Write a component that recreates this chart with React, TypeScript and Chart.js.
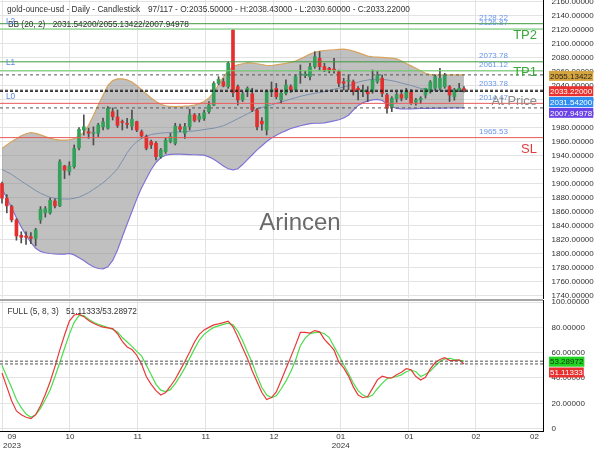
import React, { useEffect, useRef } from "react";
import { Chart, registerables } from "chart.js";
Chart.register(...registerables);

const FONT = '"Liberation Sans", Arial, sans-serif';

// ---------- candles (daily OHLC) ----------
const opens = [1900,1879,1867,1848,1826,1825,1824,1821.5,1848,1858,1858,1875,1868,1925,1917,1924,1950.8,1976.4,1974,1971.5,1971.7,1981,1978.8,2002.6,1995,1988,1986,1982,1988.3,1974,1967,1959.8,1957.4,1938.3,1945.5,1959.8,1957.4,1981,1971.7,1981,1998,1991.7,1993,2002.6,2012,2043,2045.4,2038.3,2119,2038.3,2019.3,2031,2028,2005,1989,1976.4,2031,2036,2019.3,2028.8,2038.3,2033.6,2055,2054,2052.6,2066.9,2078.8,2066.9,2064.5,2063,2059.8,2045.4,2046,2045.4,2035.9,2031,2031.2,2031.2,2045.4,2050.3,2026.4,2009,2021,2027,2022,2031,2016,2019.3,2026.4,2031,2036,2036,2038.3,2038.3,2024,2033,2035.5];
const highs = [1902,1884,1869,1850,1831,1831,1830,1836,1867,1867,1879,1878,1934,1926,1931,1955,1980,1998,1979,1981,1986,1993.5,2009.7,2008,2005,1990.7,1993,2005,1989,1976.4,1969.3,1962,1959.8,1950,1964.5,1971.7,1986,1985,1986,2006,2000,2000,2005,2017,2045.5,2052.6,2050,2074,2119.5,2040.7,2031,2038,2036,2007.4,1994,2033.6,2045,2043,2033,2047.9,2041,2055,2069.3,2060,2071.7,2088.3,2088.3,2071.7,2066,2078.8,2062.1,2050.3,2055,2047.9,2038.3,2040.7,2038.3,2062.1,2059.8,2055,2028.8,2024,2030,2033,2036,2034,2021.7,2024,2036,2047,2055,2064.5,2057.4,2040,2036,2043,2038.43];
const lows = [1872,1858,1845,1819,1815,1813,1814,1811,1843,1852,1856,1865,1867,1907,1912,1921.7,1948,1969,1964.5,1955,1967,1976.4,1977.4,1990.7,1980,1976.4,1979,1976.4,1974,1965,1948,1950,1933.6,1936,1943,1958,1955,1974,1964.5,1976.4,1988,1988,1990,2000,2011,2041,2038,2036,2024,2012,2017,2024,2002.6,1976.4,1976,1969.3,2024,2021,2015,2026.4,2030,2031,2043,2051,2047.9,2064.5,2062,2059.8,2058,2057.4,2038.3,2033.6,2033.6,2026.4,2019.3,2024,2016.9,2028.8,2043.1,2024,2000.3,2002.6,2016,2018,2020,2013,2012,2014,2022,2029,2033.6,2034,2036,2017,2019,2031,2030.6];
const closes = [1879,1868,1848,1825,1823,1823,1821.5,1833.6,1863,1864,1876,1868,1931,1919,1925,1950,1977.4,1981,1971.7,1973,1983.6,1988,2007.4,1995.4,1983,1987,1984.5,1991.7,1976.4,1968,1950.3,1955,1938.3,1948,1962,1967,1982,1977.4,1981,1998,1990,1996.4,2001,2012,2043,2048.8,2039.3,2071.7,2030,2019.3,2028,2036,2005,1981,1985,2031.2,2034,2024,2029,2040.7,2033.6,2052.6,2056,2056.5,2066.9,2081,2066.9,2062.1,2062.1,2062,2043.1,2043.1,2047,2031.2,2033.6,2033.5,2028,2047.9,2055,2028.8,2007.4,2021.7,2027,2022,2031,2015,2019.3,2021.7,2036,2045,2052.6,2050.3,2055,2026.4,2033.6,2036,2033.22];

// ---------- Bollinger bands (20, 2) ----------
const bbUpper = [1950,1955,1960,1964,1968,1971,1972.5,1971.5,1969.5,1967,1964.5,1963,1962,1962,1962.5,1964,1968,1973,1983,1997,2012,2026,2040,2047,2049.5,2049.5,2048,2045,2040,2034,2028,2022,2017,2013,2011,2010,2009.7,2010,2010.5,2011,2012,2014,2017,2022,2030,2041,2052,2061,2067,2069.5,2071,2072.5,2072,2071,2070,2068.5,2068.5,2069.5,2070.5,2071.5,2073,2075,2078,2081.5,2085,2087.5,2089,2090,2090.7,2091,2091.5,2092,2091,2089,2087,2084.5,2082,2081,2080.5,2080,2079.5,2079,2078,2075,2071.5,2068,2064.5,2061,2057.5,2055.5,2055,2055,2055,2055,2055.1,2055.1,2055.13422];
const bbMiddle = [1920,1916.5,1913,1908,1903.5,1899,1894.5,1890,1886,1883,1880.2,1879,1878,1877.8,1877.8,1878.8,1880.5,1883.5,1887,1891.5,1896,1901,1907,1913.5,1921,1932,1944,1953,1959.5,1964.5,1967.5,1970,1971,1972,1972.4,1972.8,1973.2,1973.6,1974,1974.5,1975,1976,1977,1978,1979,1980.5,1982.5,1985.5,1989,1992.5,1996,1999.5,2003,2006,2008.5,2010.5,2012.3,2014.5,2016.5,2018.5,2020.5,2022.5,2024.5,2026,2027.5,2028.8,2030,2031.2,2032.8,2034.5,2036.2,2037.8,2039.5,2042,2044.8,2046.5,2047.8,2048.8,2049,2048.8,2048,2046.8,2045.4,2043.5,2041.8,2040,2037.8,2035.8,2034.5,2033.5,2033,2032.6,2032.2,2032,2031.8,2031.6,2031.542];
const bbLower = [1893,1879,1865,1851,1838,1826,1816,1807.5,1803,1801,1800,1799.3,1799,1799,1800,1798,1794,1790,1785,1781,1778.5,1778,1781,1790,1805,1824,1842,1860,1878,1894,1907,1920,1930,1937,1940.5,1941.5,1941.8,1941.8,1941.5,1941.3,1941,1940.8,1940.5,1938,1934.5,1930,1925,1921,1919.5,1921,1927,1934,1941,1948,1954,1960,1965,1969,1972.5,1975.5,1978.5,1980.5,1982.5,1984,1985.5,1986,1986,1986.5,1988,1989.5,1991,1993.5,1997.5,2005,2011.5,2015.5,2018,2019.5,2020,2018.5,2014,2009.5,2007.3,2006.7,2006.4,2006.5,2007,2007.2,2007.3,2007.4,2007.5,2007.6,2007.7,2007.8,2007.9,2007.9,2007.94978];

// ---------- Stochastic FULL (5, 8, 3) ----------
const stochK = [44,33,22,14,11,9,8,11,18,27,37,49,62,74,85,89.8,90.4,88.5,85.5,83.3,81.5,80.2,79.6,79,75,69,64.5,62.5,58,51,41,35,30,26.6,28.5,33.5,39,46,53,60.5,68.5,74.5,78,80,82,82.8,83.8,85,80.5,72.5,64,55.5,45.5,37,28.5,23,24.5,29,38,47.3,56.5,66,76,76,75.5,77.5,76.5,70.5,66.5,62,52.5,48,41.5,33,26.5,24.4,25.3,31.8,38.5,41.4,40.3,40,42.6,44.5,47.3,46.5,41.2,38.4,40.5,47.2,52,54.6,56,54,53.8,54.3,51.11333];
const stochD = [50,41,32.5,23,16.5,11.5,9,11,16,23,30.5,41,52,63.5,74.7,84,89.3,89.3,86.4,84.1,82.5,81.2,79.9,78.3,76.4,72,68.5,65,61,57.5,50,42.5,35,30.4,29.2,30.8,35.5,41.5,48,55.5,63,70,74.5,77.5,80,81.2,82.4,83.3,82,77,69.5,60.5,52,41.5,32.5,26.6,24.5,26,31.3,37.5,45,54,65.5,71.5,75,75.8,76.2,75,72,64.8,58,50.5,43.5,36,30,26.5,24.7,26.5,31.5,35.8,39.4,40.4,41.2,42.5,45,46.3,45,41.2,43,45.5,49.5,53,55,55.6,54.5,54,53.28972];

// ---------- levels ----------
const levelValues = [2128.22, 2120.7, 2073.78, 2061.12, 2014.47, 1965.53];
const levelTexts = ["2128.22", "2126.87", "2073.78", "2061.12", "2014.47", "1965.53"];
const extraLevelValue = 2033.78;
const TOTAL_BARS = 117;

// ---------- axes ----------
const priceTicks = [1740,1760,1780,1800,1820,1840,1860,1880,1900,1920,1940,1960,1980,2000,2020,2040,2060,2080,2100,2120,2140,2160];
const stochTicks = [0, 20, 40, 60, 80, 100];
const xTickPositions = [0.15, 2.08, 14.13, 28.2, 42.33, 56.52, 70.38, 84.57, 98.49, 110.65];
const xTickLabels: any[] = ["", ["09", "2023"], "10", "11", "11", "12", ["01", "2024"], "01", "02", "02"];
const xTickHasGrid = [true, false, true, true, true, true, true, true, true, false];

const X_MIN = -0.4156;
const X_MAX = 112.42;
const GRID = "#e3e3e3";
const UP = "#35a05a";
const DOWN = "#e3302f";

function makeX(showLabels: boolean) {
  return {
    type: "linear",
    min: X_MIN,
    max: X_MAX,
    offset: false,
    bounds: "data",
    afterBuildTicks: (s: any) => {
      s.ticks = xTickPositions.map((v) => ({ value: v }));
    },
    afterFit: (s: any) => {
      s.paddingLeft = 0;
      s.paddingRight = 0;
      s.height = showLabels ? 19 : 0;
    },
    grid: {
      color: (c: any) => (xTickHasGrid[c.index] ? GRID : "rgba(0,0,0,0)"),
      drawTicks: false,
      offset: false,
      lineWidth: 1,
    },
    border: { display: showLabels, color: "#000", width: 1 },
    ticks: {
      display: showLabels,
      autoSkip: false,
      maxRotation: 0,
      minRotation: 0,
      padding: 1.3,
      color: "#333",
      font: { family: FONT, size: 8, lineHeight: 1.1 },
      callback: (_v: any, i: number) => xTickLabels[i],
    },
  };
}

function makeY(min: number, max: number, ticks: number[], fmt: (v: number) => string) {
  return {
    position: "right",
    min,
    max,
    bounds: "data",
    beginAtZero: false,
    afterBuildTicks: (s: any) => {
      s.ticks = ticks.map((v) => ({ value: v }));
    },
    afterFit: (s: any) => {
      s.width = 57;
      s.paddingTop = 0;
      s.paddingBottom = 0;
    },
    grid: { color: GRID, drawTicks: false },
    border: { display: true, color: "#000", width: 1 },
    ticks: {
      padding: 8.5,
      color: "#333",
      font: { family: FONT, size: 8 },
      callback: (v: any) => fmt(Number(v)),
    },
  };
}

function drawTags(ctx: any, scale: any, tags: any[], shift: number) {
  const items = tags
    .map((t) => ({ ...t, py: scale.getPixelForValue(t.value) }))
    .sort((a, b) => a.py - b.py);
  let prev = -1e9;
  ctx.font = `8px ${FONT}`;
  ctx.textBaseline = "middle";
  ctx.textAlign = "left";
  for (const t of items) {
    const cy = Math.max(t.py + shift, prev + 10.8);
    prev = cy;
    const w = ctx.measureText(t.text).width + 2;
    ctx.fillStyle = t.bg;
    ctx.fillRect(549, cy - 5, w, 10);
    ctx.fillStyle = t.fg;
    ctx.fillText(t.text, 550, cy + 0.5);
  }
}

const topPlugin = {
  id: "topText",
  afterDraw(chart: any) {
    const { ctx } = chart;
    const y = chart.scales.y;
    const last = opens.length - 1;
    ctx.save();
    // headers
    ctx.font = `8.3px ${FONT}`;
    ctx.fillStyle = "#333";
    ctx.textBaseline = "middle";
    ctx.textAlign = "left";
    ctx.fillText("gold-ounce-usd - Daily - Candlestick", 7, 10);
    ctx.fillText(
      `${opens.length}/${TOTAL_BARS} - O:${opens[last].toFixed(5)} - H:${highs[last].toFixed(5)} - L:${lows[last].toFixed(5)} - C:${closes[last].toFixed(5)}`,
      148,
      10
    );
    ctx.fillText("BB (20, 2)", 8, 25);
    ctx.fillText(
      `${bbMiddle[last].toFixed(5)}/${bbUpper[last].toFixed(5)}/${bbLower[last].toFixed(5)}`,
      52.7,
      25
    );
    // level value labels
    ctx.font = `8px ${FONT}`;
    ctx.fillStyle = "#6a95ea";
    const lv = [...levelValues.slice(0, 4), extraLevelValue, ...levelValues.slice(4)];
    const lt = [...levelTexts.slice(0, 4), extraLevelValue.toFixed(2), ...levelTexts.slice(4)];
    lv.forEach((v, i) => ctx.fillText(lt[i], 479, y.getPixelForValue(v) - 5.8));
    // L labels
    ctx.font = `8.3px ${FONT}`;
    ctx.fillStyle = "#5a86e0";
    ctx.fillText("L2", 6, y.getPixelForValue(levelValues[0]) - 2.2);
    ctx.fillText("L1", 6, y.getPixelForValue(levelValues[2]) + 0.4);
    ctx.fillText("L0", 6, y.getPixelForValue(levelValues[4]) - 6.3);
    // big labels
    ctx.font = `13px ${FONT}`;
    ctx.textAlign = "right";
    ctx.fillStyle = "#3aa83a";
    ctx.fillText("TP2", 537, y.getPixelForValue(levelValues[1]) + 6);
    ctx.fillText("TP1", 537, y.getPixelForValue(levelValues[3]) + 2);
    ctx.fillStyle = "#8c8c8c";
    ctx.fillText("At Price", 537, y.getPixelForValue(levelValues[4]) - 1.8);
    ctx.fillStyle = "#e23b3b";
    ctx.fillText("SL", 537, y.getPixelForValue(levelValues[5]) + 11.5);
    // watermark
    ctx.font = `24px ${FONT}`;
    ctx.textAlign = "center";
    ctx.fillStyle = "#6a6a6a";
    ctx.fillText("Arincen", 300, 223);
    // right tags
    drawTags(
      ctx,
      y,
      [
        { value: bbUpper[last], text: bbUpper[last].toFixed(5), bg: "#d6a43f", fg: "#222" },
        { value: closes[last], text: closes[last].toFixed(5), bg: "#e8312f", fg: "#fff" },
        { value: bbMiddle[last], text: bbMiddle[last].toFixed(5), bg: "#2f8ff0", fg: "#fff" },
        { value: bbLower[last], text: bbLower[last].toFixed(5), bg: "#6a42e6", fg: "#fff" },
      ],
      1
    );
    ctx.restore();
  },
};

const subPlugin = {
  id: "subText",
  afterDraw(chart: any) {
    const { ctx } = chart;
    const y = chart.scales.y;
    const last = stochK.length - 1;
    ctx.save();
    ctx.strokeStyle = "#8a8a8a";
    ctx.lineWidth = 1.5;
    ctx.beginPath();
    ctx.moveTo(0, 1);
    ctx.lineTo(543, 1);
    ctx.stroke();
    ctx.font = `8.3px ${FONT}`;
    ctx.fillStyle = "#333";
    ctx.textBaseline = "middle";
    ctx.textAlign = "left";
    ctx.fillText("FULL (5, 8, 3)", 7.5, 12.7);
    ctx.fillText(`${stochK[last].toFixed(5)}/${stochD[last].toFixed(5)}`, 66, 12.7);
    drawTags(
      ctx,
      y,
      [
        { value: stochD[last], text: stochD[last].toFixed(5), bg: "#22d422", fg: "#113311" },
        { value: stochK[last], text: stochK[last].toFixed(5), bg: "#e8312f", fg: "#fff" },
      ],
      0.5
    );
    ctx.restore();
  },
};

function hLine(v: number, color: string, dash: number[] | undefined, width: number) {
  return {
    type: "line",
    data: [
      { x: X_MIN, y: v },
      { x: X_MAX, y: v },
    ],
    borderColor: color,
    borderWidth: width,
    borderDash: dash || [],
    pointRadius: 0,
    fill: false,
    order: 0,
  };
}

export default function App() {
  const topRef = useRef<HTMLCanvasElement | null>(null);
  const subRef = useRef<HTMLCanvasElement | null>(null);

  useEffect(() => {
    const idx = opens.map((_, i) => i);
    const last = opens.length - 1;
    const levelColors = ["#3d9a3d", "#6ccf6c", "#3d9a3d", "#6ccf6c", "#e85a5a", "#e85a5a"];

    const top = new Chart(topRef.current as any, {
      type: "bar",
      data: {
        datasets: [
          {
            type: "line",
            data: idx.map((i) => ({ x: i, y: bbUpper[i] })),
            borderColor: "#d8a45e",
            borderWidth: 1.2,
            pointRadius: 0,
            fill: "+2",
            backgroundColor: "rgba(140,140,140,0.55)",
            order: 5,
          },
          {
            type: "line",
            data: idx.map((i) => ({ x: i, y: bbMiddle[i] })),
            borderColor: "#6a92d8",
            borderWidth: 1,
            pointRadius: 0,
            fill: false,
            order: 5,
          },
          {
            type: "line",
            data: idx.map((i) => ({ x: i, y: bbLower[i] })),
            borderColor: "#7a6cf0",
            borderWidth: 1.2,
            pointRadius: 0,
            fill: false,
            order: 5,
          },
          {
            type: "bar",
            data: idx.map((i) => ({ x: i, y: [lows[i], highs[i]] })),
            backgroundColor: "#4d4d4d",
            barThickness: 1,
            grouped: false,
            borderWidth: 0,
            order: 2,
          },
          {
            type: "bar",
            data: idx.map((i) => ({ x: i, y: [opens[i], closes[i]] })),
            backgroundColor: idx.map((i) => (closes[i] >= opens[i] ? UP : DOWN)),
            barThickness: 3,
            grouped: false,
            borderWidth: 0,
            minBarLength: 1,
            order: 1,
          },
          ...levelValues.map((v, i) => hLine(v, levelColors[i], undefined, 1)),
          hLine(bbUpper[last], "#555", [3, 3], 1),
          hLine(closes[last], "#222", [3, 2], 1),
          hLine(bbMiddle[last], "#222", [3, 2], 1),
          hLine(bbLower[last], "#555", [3, 3], 1),
        ] as any,
      },
      options: {
        responsive: false,
        animation: false,
        devicePixelRatio: 1,
        layout: { padding: { left: 0, right: 0, top: 0, bottom: 1 } },
        plugins: { legend: { display: false }, tooltip: { enabled: false } },
        scales: {
          x: makeX(false),
          y: makeY(1736.4, 2162.1, priceTicks, (v) => v.toFixed(5)),
        } as any,
      },
      plugins: [topPlugin],
    } as any);

    const sub = new Chart(subRef.current as any, {
      type: "line",
      data: {
        datasets: [
          hLine(stochD[last], "#555", [3, 2], 1),
          hLine(stochK[last], "#555", [3, 2], 1),
          {
            data: idx.map((i) => ({ x: i, y: stochD[i] })),
            borderColor: "#4cdc4c",
            borderWidth: 1.2,
            pointRadius: 0,
            fill: false,
            order: 2,
          },
          {
            data: idx.map((i) => ({ x: i, y: stochK[i] })),
            borderColor: "#e83a3a",
            borderWidth: 1.2,
            pointRadius: 0,
            fill: false,
            order: 1,
          },
        ] as any,
      },
      options: {
        responsive: false,
        animation: false,
        devicePixelRatio: 1,
        layout: { padding: { left: 0, right: 0, top: 1, bottom: 0 } },
        plugins: { legend: { display: false }, tooltip: { enabled: false } },
        scales: {
          x: makeX(true),
          y: makeY(-1.9, 101.66, stochTicks, (v) => (v === 0 ? "0" : v.toFixed(5))),
        } as any,
      },
      plugins: [subPlugin],
    } as any);

    return () => {
      top.destroy();
      sub.destroy();
    };
  }, []);

  return (
    <div style={{ position: "fixed", left: 0, top: 0, width: 600, height: 450, background: "#fff" }}>
      <canvas
        ref={topRef}
        width={600}
        height={299}
        style={{ position: "absolute", left: 0, top: 0, width: 600, height: 299 }}
      />
      <canvas
        ref={subRef}
        width={600}
        height={151}
        style={{ position: "absolute", left: 0, top: 299, width: 600, height: 151 }}
      />
    </div>
  );
}
